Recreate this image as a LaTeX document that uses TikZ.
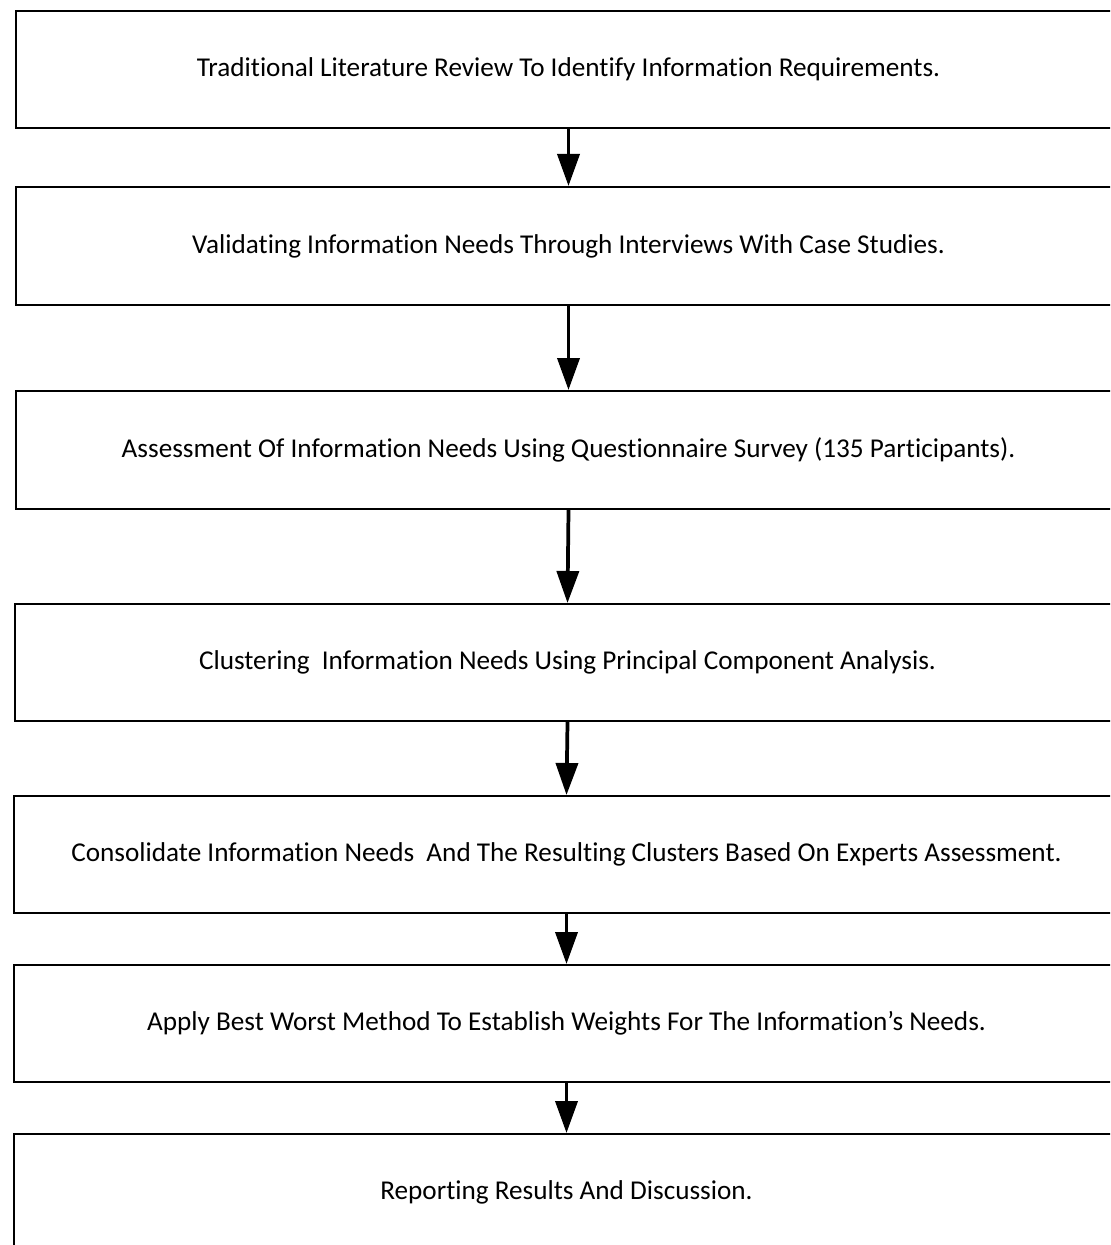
\documentclass[tikz,border=0pt]{standalone}
\usepackage{fontspec}
\setmainfont[Ligatures={NoCommon}]{Carlito}
\usetikzlibrary{arrows.meta}
\begin{document}
\begin{tikzpicture}[x=0.75pt,y=-0.75pt,
  stepbox/.style={draw=black, line width=1.5pt, rectangle, minimum width=1105*0.75pt, minimum height=117*0.75pt, inner sep=0pt, font=\fontsize{20.4}{24}\selectfont, anchor=north west},
  flow/.style={line width=2.8pt, -{Triangle[length=24pt,width=16.5pt]}}]
\useasboundingbox (0,0) rectangle (1110,1245);
\clip (0,0) rectangle (1110,1245);
\node[stepbox] (b1) at (15,10) {Traditional Literature Review To Identify Information Requirements.};
\node[stepbox, minimum height=118*0.75pt] (b2) at (15,186) {Validating Information Needs Through Interviews With Case Studies.};
\node[stepbox, minimum height=118*0.75pt] (b3) at (15,390) {Assessment Of Information Needs Using Questionnaire Survey (135 Participants).};
\node[stepbox] (b4) at (14,603) {Clustering \ Information Needs Using Principal Component Analysis.};
\node[stepbox] (b5) at (13,795) {Consolidate Information Needs \ And The Resulting Clusters Based On Experts Assessment.};
\node[stepbox] (b6) at (13,964) {Apply Best Worst Method To Establish Weights For The Information\char"0027 s Needs.};
\node[stepbox] (b7) at (13,1133) {Reporting Results And Discussion.};
\draw[flow] (b1.south) -- (b2.north);
\draw[flow] (b2.south) -- (b3.north);
\draw[flow] (b3.south) -- (b4.north);
\draw[flow] (b4.south) -- (b5.north);
\draw[flow] (b5.south) -- (b6.north);
\draw[flow] (b6.south) -- (b7.north);
\end{tikzpicture}
\end{document}
